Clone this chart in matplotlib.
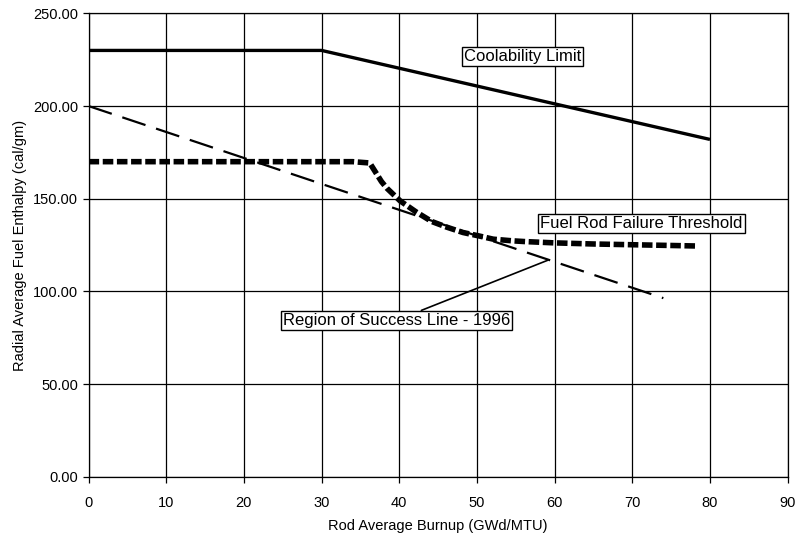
import matplotlib
matplotlib.use("Agg")
import matplotlib.pyplot as plt

plt.rcParams['font.family'] = ['Liberation Sans', 'DejaVu Sans']

# Coolability limit
cool_x = [0, 30, 80]
cool_y = [230, 230, 182]

# Region of success line - 1996
success_x = [0, 74]
success_y = [200, 96.4]

# Fuel rod failure threshold
fail_x = [0, 34, 36.2, 37.7, 38.4, 40.1, 42.2, 44.2, 46.1, 48.2, 50.2, 52.1,
          54.6, 56.2, 60, 65, 70, 75, 78.5]
fail_y = [170, 170, 169.3, 159.3, 155.7, 148.9, 142.8, 137.7, 134.7, 131.8,
          130, 128.2, 127.3, 126.9, 126.2, 125.6, 125.2, 124.8, 124.5]

x_ticks = [0, 10, 20, 30, 40, 50, 60, 70, 80, 90]
y_ticks = [0, 50, 100, 150, 200, 250]

fig = plt.figure(figsize=(7.98, 5.34), dpi=100)
ax = fig.add_axes([0.111, 0.107, 0.876, 0.868])

ax.plot(cool_x, cool_y, color='black', lw=2.4, solid_capstyle='butt', zorder=3)
ax.plot(success_x, success_y, color='black', lw=1.6, dashes=(11, 5), zorder=3)
ax.plot(fail_x, fail_y, color='black', lw=4.0, dashes=(1.9, 0.65),
        dash_capstyle='butt', zorder=3)

ax.set_xlim(0, 90)
ax.set_ylim(0, 250)
ax.set_xticks(x_ticks)
ax.set_yticks(y_ticks)
ax.set_yticklabels([f"{v:.2f}" for v in y_ticks])
ax.grid(True, color='black', lw=0.9)
ax.set_axisbelow(True)
for s in ax.spines.values():
    s.set_linewidth(0.9)
ax.tick_params(axis='both', labelsize=10.5, length=4, width=0.9, direction='out')
ax.tick_params(axis='x', pad=10)

ax.set_xlabel('Rod Average Burnup (GWd/MTU)', fontsize=10.5, labelpad=6)
ax.set_ylabel('Radial Average Fuel Enthalpy (cal/gm)', fontsize=10.5, labelpad=4)

box = dict(boxstyle='square,pad=0.12', fc='white', ec='black', lw=1.0)
ax.text(55.9, 226.5, 'Coolability Limit', fontsize=12, ha='center', va='center',
        bbox=box, zorder=5)
ax.text(71.2, 136.5, 'Fuel Rod Failure Threshold', fontsize=12, ha='center',
        va='center', bbox=box, zorder=5)
ax.annotate('Region of Success Line - 1996', xy=(59.1, 116.8), xytext=(39.6, 84.4),
            fontsize=12, ha='center', va='center', bbox=box, zorder=5,
            arrowprops=dict(arrowstyle='-', color='black', lw=1.2,
                            shrinkA=0, shrinkB=0))

fig.savefig('out.png', dpi=100)
